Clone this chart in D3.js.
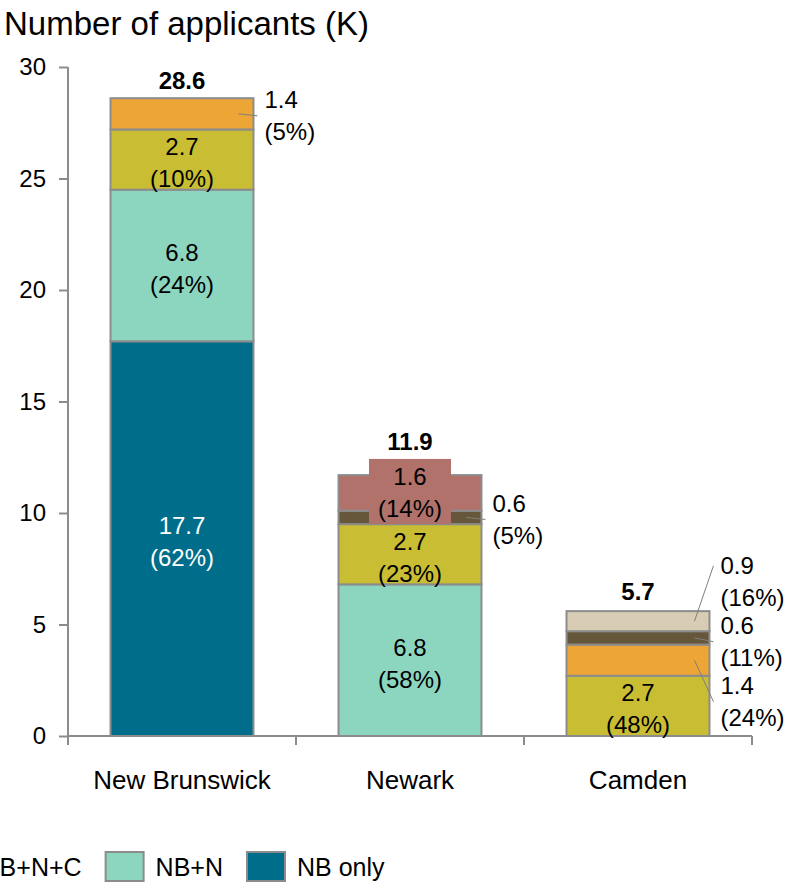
<!DOCTYPE html>
<html>
<head>
<meta charset="utf-8">
<script src="https://cdn.jsdelivr.net/npm/d3@7"></script>
<style>
  body { margin: 0; background: #fff; }
  text { font-family: Arial, 'Liberation Sans', sans-serif; }
</style>
</head>
<body>
<svg id="chart" width="808" height="882"></svg>
<script>
// data
let categories = ['New Brunswick', 'Newark', 'Camden']
let groups = ['NB only', 'NB+N', 'NB+N+C', 'NB+C', 'N+C', 'N only', 'C only']

let nbOnly = [17.7, 0, 0]
let nbN = [6.8, 6.8, 0]
let nbNC = [2.7, 2.7, 2.7]
let nbC = [1.4, 0, 1.4]
let nC = [0, 0.6, 0.6]
let nOnly = [0, 1.6, 0]
let cOnly = [0, 0, 0.9]

let nbOnlyPct = ['62%', '', '']
let nbNPct = ['24%', '58%', '']
let nbNCPct = ['10%', '23%', '48%']
let nbCPct = ['5%', '', '24%']
let nCPct = ['', '5%', '11%']
let nOnlyPct = ['', '14%', '']
let cOnlyPct = ['', '', '16%']

let totals = [28.6, 11.9, 5.7]
let yTicks = [0, 5, 10, 15, 20, 25, 30]
// only the legend entries that fall inside the frame
let legendItems = ['NB+N+C', 'NB+N', 'NB only']

let seriesValues = [nbOnly, nbN, nbNC, nbC, nC, nOnly, cOnly]
let seriesPct = [nbOnlyPct, nbNPct, nbNCPct, nbCPct, nCPct, nOnlyPct, cOnlyPct]
let colors = ['#006e8a', '#8cd6c0', '#c9be33', '#eda535', '#66563a', '#b0726b', '#d8ccb4']

let svg = d3.select('#chart')
let gray = '#8c8c8c'

let x = d3.scaleBand()
  .domain(categories)
  .range([68, 752])
  .paddingInner(0.373)
  .paddingOuter(0.1865)

let y = d3.scaleLinear().domain([0, 30]).range([736, 67])

let color = d3.scaleOrdinal().domain(groups).range(colors)

let table = categories.map((c, i) => {
  let row = { category: c, index: i }
  groups.forEach((g, k) => { row[g] = seriesValues[k][i] })
  return row
})

let stacked = d3.stack().keys(groups)(table)

// title
svg.append('text')
  .attr('x', 4)
  .attr('y', 35)
  .attr('font-size', 33)
  .attr('fill', '#000')
  .text('Number of applicants (K)')

// y axis
let yAxis = svg.append('g')
  .attr('transform', 'translate(68,0)')
  .call(d3.axisLeft(y).tickValues(yTicks).tickSize(9).tickSizeOuter(0).tickPadding(13))
yAxis.select('.domain').remove()
yAxis.selectAll('line').attr('stroke', gray).attr('stroke-width', 2)
yAxis.selectAll('text').attr('font-size', 24).attr('fill', '#000').attr('font-family', 'Arial, Liberation Sans, sans-serif')

svg.append('line')
  .attr('x1', 68).attr('x2', 68)
  .attr('y1', y(30)).attr('y2', y(0) + 9)
  .attr('stroke', gray).attr('stroke-width', 2)

// x axis
let step = x.step()
let bounds = [x.range()[0]].concat(categories.map(c => x(c) - step * x.paddingOuter() + step))
svg.append('line')
  .attr('x1', x.range()[0]).attr('x2', x.range()[1])
  .attr('y1', y(0)).attr('y2', y(0))
  .attr('stroke', gray).attr('stroke-width', 2)
svg.selectAll('.x-tick')
  .data(bounds)
  .enter()
  .append('line')
  .attr('x1', d => d).attr('x2', d => d)
  .attr('y1', y(0)).attr('y2', y(0) + 9)
  .attr('stroke', gray).attr('stroke-width', 2)

svg.selectAll('.cat-label')
  .data(categories)
  .enter()
  .append('text')
  .attr('x', d => x(d) + x.bandwidth() / 2)
  .attr('y', 789)
  .attr('text-anchor', 'middle')
  .attr('font-size', 26)
  .text(d => d)

// bars
let segs = []
stacked.forEach((s, k) => {
  s.forEach((d, i) => {
    if (d[1] - d[0] > 0) {
      segs.push({ k: k, i: i, y0: d[0], y1: d[1], value: seriesValues[k][i], pct: seriesPct[k][i] })
    }
  })
})

svg.append('g')
  .selectAll('rect')
  .data(segs)
  .enter()
  .append('rect')
  .attr('x', d => x(categories[d.i]))
  .attr('width', x.bandwidth())
  .attr('y', d => y(d.y1))
  .attr('height', d => y(d.y0) - y(d.y1))
  .attr('fill', d => colors[d.k])
  .attr('stroke', gray)
  .attr('stroke-width', 2)

let fmt = d3.format('.1f')
let labels = svg.append('g')

function twoLines(g, cx, cy, d, anchor, fill) {
  let t = g.append('text')
    .attr('text-anchor', anchor)
    .attr('font-size', 24)
    .attr('fill', fill)
  t.append('tspan').attr('x', cx).attr('y', cy - 16).attr('dy', '0.35em').text(fmt(d.value))
  t.append('tspan').attr('x', cx).attr('y', cy + 16).attr('dy', '0.35em').text('(' + d.pct + ')')
  return t
}

let boxTops = categories.map(c => Infinity)

segs.forEach(d => {
  let h = y(d.y0) - y(d.y1)
  let mid = (y(d.y0) + y(d.y1)) / 2
  let cx = x(categories[d.i]) + x.bandwidth() / 2
  if (h >= 50) {
    twoLines(labels, cx, mid + 3, d, 'middle', d.k === 0 ? '#fff' : '#000')
  } else if (h >= 34) {
    let bg = labels.append('rect')
    let t = twoLines(labels, cx, mid, d, 'middle', '#000')
    let w = t.node().getBBox().width + 18
    bg.attr('x', cx - w / 2).attr('width', w)
      .attr('y', mid - 34).attr('height', 65)
      .attr('fill', colors[d.k])
    boxTops[d.i] = mid - 34
  } else {
    d.mid = mid
    d.outside = true
  }
})

// outside labels, spread so they do not overlap
categories.forEach((c, i) => {
  let outs = segs.filter(d => d.outside && d.i === i).sort((a, b) => a.mid - b.mid)
  let gap = 60
  let clusters = outs.map(d => ({ items: [d], mean: d.mid }))
  let merged = true
  while (merged) {
    merged = false
    for (let j = 1; j < clusters.length; j++) {
      let a = clusters[j - 1]
      let b = clusters[j]
      let aEnd = a.mean + (a.items.length - 1) * gap / 2
      let bStart = b.mean - (b.items.length - 1) * gap / 2
      if (bStart - aEnd < gap) {
        let items = a.items.concat(b.items)
        clusters.splice(j - 1, 2, { items: items, mean: d3.mean(items, d => d.mid) })
        merged = true
        break
      }
    }
  }
  let right = x(c) + x.bandwidth()
  clusters.forEach(cl => {
    cl.items.forEach((d, j) => {
      let cy = cl.mean + 2 + (j - (cl.items.length - 1) / 2) * gap
      // leader points at the value line when the label sits well above its segment
      let ly = cy < d.mid - 20 ? cy - 16 : cy
      labels.append('line')
        .attr('x1', right - 15).attr('y1', d.mid)
        .attr('x2', right + 4).attr('y2', ly)
        .attr('stroke', '#7f7f7f').attr('stroke-width', 1)
      twoLines(labels, right + 11, cy, d, 'start', '#000')
    })
  })
})

// totals
labels.selectAll('.total')
  .data(totals)
  .enter()
  .append('text')
  .attr('x', (d, i) => x(categories[i]) + x.bandwidth() / 2)
  .attr('y', (d, i) => Math.min(y(d), boxTops[i]) - 9)
  .attr('text-anchor', 'middle')
  .attr('font-size', 24)
  .attr('font-weight', 'bold')
  .text(d => fmt(d))

// legend: measure the texts, then lay out right to left from the last swatch
let legend = svg.append('g')
let items = legendItems.map(name => {
  let g = legend.append('g')
  g.append('rect')
    .attr('x', 0).attr('y', 852)
    .attr('width', 38).attr('height', 29)
    .attr('fill', color(name))
    .attr('stroke', gray)
    .attr('stroke-width', 2)
  let t = g.append('text')
    .attr('x', 50).attr('y', 876)
    .attr('font-size', 25)
    .text(name)
  return { g: g, w: t.node().getComputedTextLength() }
})
let sx = 247
for (let j = items.length - 1; j >= 0; j--) {
  items[j].g.attr('transform', `translate(${sx},0)`)
  if (j > 0) sx = sx - 24 - items[j - 1].w - 50
}
</script>
</body>
</html>
